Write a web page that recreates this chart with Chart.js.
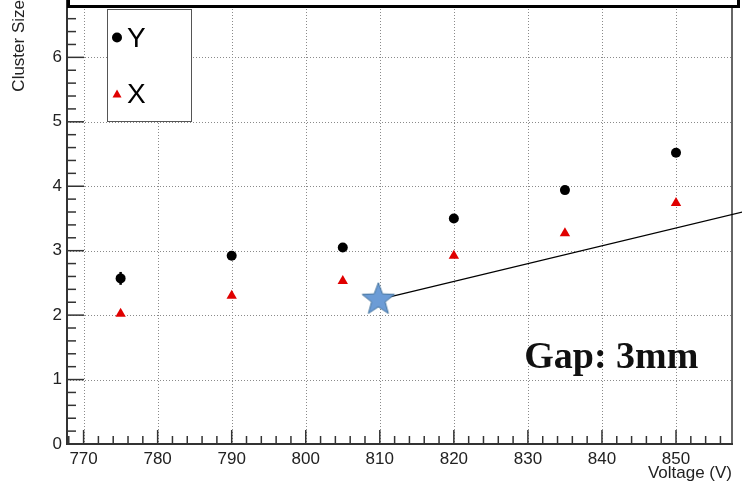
<!DOCTYPE html>
<html>
<head>
<meta charset="utf-8">
<script src="https://cdn.jsdelivr.net/npm/chart.js@4.4.0/dist/chart.umd.min.js"></script>
<style>
  html, body { margin: 0; padding: 0; background: #fff; }
  canvas { display: block; }
</style>
</head>
<body>
<canvas id="chart" width="742" height="493"></canvas>
<script>
// voltage steps (V)
var voltages = [775, 790, 805, 820, 835, 850];
// cluster size, Y strips (+ error)
var clusterY = [2.57, 2.92, 3.05, 3.50, 3.94, 4.52];
var clusterYErr = [0.10, 0.03, 0.03, 0.03, 0.03, 0.03];
// cluster size, X strips
var clusterX = [2.02, 2.30, 2.53, 2.92, 3.27, 3.74];

// axis ticks
var xTicks = [770, 780, 790, 800, 810, 820, 830, 840, 850];
var yTicks = [0, 1, 2, 3, 4, 5, 6];

// star marker and pointer line (annotation)
var starPoint = [809.8, 2.24];
var pointerEnd = [859, 3.60];
var gapLabel = "Gap: 3mm";
var gapLabelPos = [829.5, 1.18];

var FONT = "'Liberation Sans', Arial, sans-serif";

function toPoints(xs, ys) {
  return xs.map(function (x, i) { return { x: x, y: ys[i] }; });
}

// filled five point star used as point style
function makeStar(r) {
  var s = Math.ceil(r * 2 + 4);
  var c = document.createElement("canvas");
  c.width = s; c.height = s;
  var g = c.getContext("2d");
  g.beginPath();
  for (var i = 0; i < 10; i++) {
    var rad = (i % 2 === 0) ? r : r * 0.42;
    var ang = -Math.PI / 2 + i * Math.PI / 5;
    g.lineTo(s / 2 + rad * Math.cos(ang), s / 2 + rad * Math.sin(ang));
  }
  g.closePath();
  g.fillStyle = "#6c9cd6";
  g.fill();
  g.strokeStyle = "#41719c";
  g.lineWidth = 1;
  g.stroke();
  return c;
}

function seg(ctx, x1, y1, x2, y2) {
  ctx.beginPath();
  ctx.moveTo(x1, y1);
  ctx.lineTo(x2, y2);
  ctx.stroke();
}

// ROOT-like frame: dotted grid, inward ticks, error bars
var framePlugin = {
  id: "frame",
  beforeDatasetsDraw: function (chart) {
    var ctx = chart.ctx, a = chart.chartArea;
    var xs = chart.scales.x, ys = chart.scales.y;
    ctx.save();

    ctx.strokeStyle = "#8a8a8a";
    ctx.lineWidth = 1;
    ctx.setLineDash([1, 2]);
    xTicks.forEach(function (v) {
      var px = Math.round(xs.getPixelForValue(v)) + 0.5;
      seg(ctx, px, a.top, px, a.bottom);
    });
    yTicks.forEach(function (v) {
      if (v === 0) return;
      var py = Math.round(ys.getPixelForValue(v)) + 0.5;
      seg(ctx, a.left, py, a.right, py);
    });
    ctx.setLineDash([]);

    // ticks
    ctx.strokeStyle = "#333";
    ctx.lineWidth = 1.5;
    for (var xv = 768; xv <= xs.max; xv += 2) {
      var major = xv % 10 === 0;
      var px2 = xs.getPixelForValue(xv);
      seg(ctx, px2, a.bottom, px2, a.bottom - (major ? 14 : 8));
    }
    for (var k = 1; k * 0.2 <= ys.max; k++) {
      var yv = k * 0.2;
      var py2 = ys.getPixelForValue(yv);
      seg(ctx, a.left, py2, a.left + (k % 5 === 0 ? 17 : 9), py2);
    }

    // axes and frame
    ctx.strokeStyle = "#666";
    ctx.lineWidth = 2;
    seg(ctx, a.right, a.top, a.right, a.bottom);
    ctx.strokeStyle = "#333";
    seg(ctx, a.left, a.top, a.left, a.bottom + 1);
    seg(ctx, a.left - 1, a.bottom, a.right + 1, a.bottom);

    // error bars on Y
    ctx.strokeStyle = "#000";
    ctx.lineWidth = 2.5;
    voltages.forEach(function (v, i) {
      var px = xs.getPixelForValue(v);
      seg(ctx, px, ys.getPixelForValue(clusterY[i] - clusterYErr[i]), px, ys.getPixelForValue(clusterY[i] + clusterYErr[i]));
    });
    ctx.restore();
  },
  afterDraw: function (chart) {
    var ctx = chart.ctx;
    var xs = chart.scales.x, ys = chart.scales.y;
    ctx.save();

    // title box at the top (cut off)
    ctx.fillStyle = "#fff";
    ctx.fillRect(68, -10, 671, 16);
    ctx.strokeStyle = "#000";
    ctx.lineWidth = 3;
    ctx.strokeRect(68.5, -10, 670, 16.5);

    // legend
    ctx.fillStyle = "#fff";
    ctx.fillRect(107.5, 9.5, 84, 112);
    ctx.strokeStyle = "#555";
    ctx.lineWidth = 1;
    ctx.strokeRect(107.5, 9.5, 84, 112);
    ctx.fillStyle = "#000";
    ctx.beginPath();
    ctx.arc(117, 37.5, 5, 0, Math.PI * 2);
    ctx.fill();
    ctx.fillStyle = "#e00000";
    ctx.beginPath();
    ctx.moveTo(117, 89.5);
    ctx.lineTo(121.5, 97.5);
    ctx.lineTo(112.5, 97.5);
    ctx.closePath();
    ctx.fill();
    ctx.fillStyle = "#000";
    ctx.font = "28px " + FONT;
    ctx.textBaseline = "middle";
    ctx.textAlign = "left";
    ctx.fillText("Y", 127, 39);
    ctx.fillText("X", 127, 95);

    // gap label
    ctx.font = "bold 38px 'Liberation Serif', 'DejaVu Serif', serif";
    ctx.textBaseline = "alphabetic";
    ctx.fillStyle = "#111";
    ctx.fillText(gapLabel, xs.getPixelForValue(gapLabelPos[0]), ys.getPixelForValue(gapLabelPos[1]));
    ctx.restore();
  }
};

new Chart(document.getElementById("chart"), {
  type: "scatter",
  data: {
    datasets: [
      {
        label: "Y",
        data: toPoints(voltages, clusterY),
        pointStyle: "circle",
        pointRadius: 5,
        backgroundColor: "#000",
        borderColor: "#000",
        borderWidth: 0,
        order: 1
      },
      {
        label: "X",
        data: toPoints(voltages, clusterX),
        pointStyle: "triangle",
        pointRadius: 6,
        backgroundColor: "#e00000",
        borderColor: "#e00000",
        borderWidth: 0,
        order: 1
      },
      {
        type: "line",
        label: "pointer",
        data: [{ x: starPoint[0], y: starPoint[1] }, { x: pointerEnd[0], y: pointerEnd[1] }],
        borderColor: "#000",
        borderWidth: 1.2,
        pointRadius: 0,
        showLine: true,
        clip: false,
        order: 3
      },
      {
        label: "star",
        data: [{ x: starPoint[0], y: starPoint[1] }],
        pointStyle: makeStar(17),
        pointRadius: 17,
        clip: false,
        order: 2
      }
    ]
  },
  options: {
    responsive: false,
    devicePixelRatio: 1,
    animation: false,
    layout: { autoPadding: false, padding: { left: 0, right: 10, top: 0, bottom: 0 } },
    plugins: { legend: { display: false }, tooltip: { enabled: false } },
    scales: {
      x: {
        type: "linear",
        min: 767.76,
        max: 857.56,
        grid: { display: false, drawTicks: false },
        border: { display: false },
        afterBuildTicks: function (s) { s.ticks = xTicks.map(function (v) { return { value: v }; }); },
        afterFit: function (s) { s.height = 49; s.paddingLeft = 0; s.paddingRight = 0; },
        ticks: { color: "#222", font: { family: FONT, size: 17 }, padding: 5, maxRotation: 0, autoSkip: false },
        title: { display: true, text: "Voltage (V)", align: "end", color: "#222", font: { family: FONT, size: 17 }, padding: { top: 8, bottom: 9 } }
      },
      y: {
        type: "linear",
        min: 0,
        max: 6.89,
        grid: { display: false, drawTicks: false },
        border: { display: false },
        afterBuildTicks: function (s) { s.ticks = yTicks.map(function (v) { return { value: v }; }); },
        afterFit: function (s) { s.width = 67; s.paddingTop = 0; s.paddingBottom = 0; },
        ticks: { color: "#222", font: { family: FONT, size: 17 }, padding: 5 },
        title: { display: true, text: "Cluster Size", align: "end", color: "#222", font: { family: FONT, size: 17 }, padding: { top: 9, bottom: 9 } }
      }
    }
  },
  plugins: [framePlugin]
});
</script>
</body>
</html>
